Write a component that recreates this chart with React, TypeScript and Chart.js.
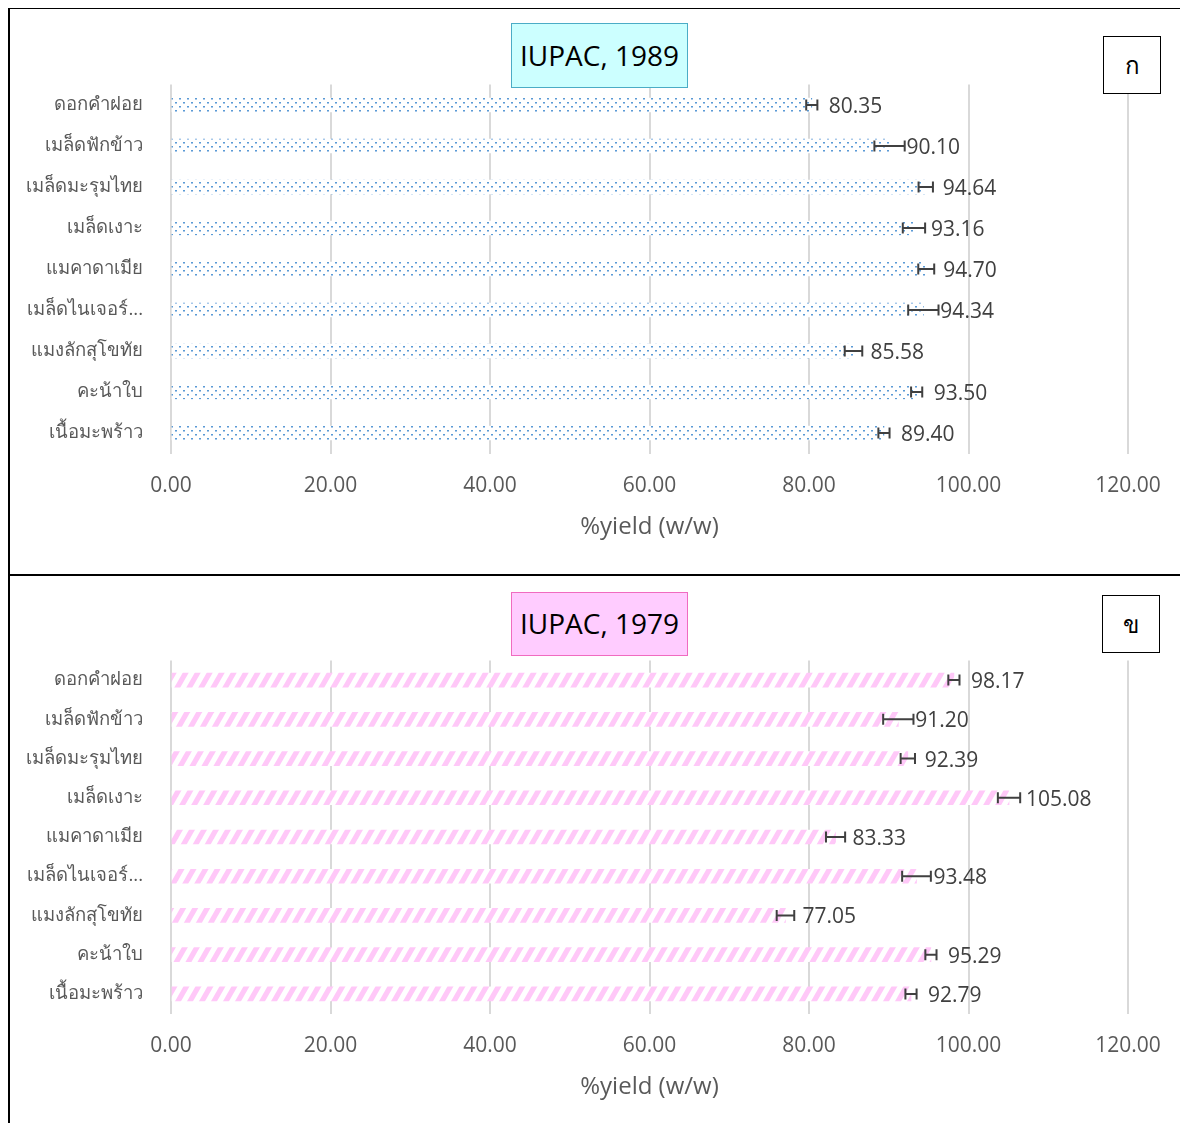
import React, { useEffect, useRef } from "react";
import { Chart, registerables } from "chart.js";

Chart.register(...registerables);

const categories = [
  "ดอกคำฝอย",
  "เมล็ดฟักข้าว",
  "เมล็ดมะรุมไทย",
  "เมล็ดเงาะ",
  "แมคาดาเมีย",
  "เมล็ดไนเจอร์...",
  "แมงลักสุโขทัย",
  "คะน้าใบ",
  "เนื้อมะพร้าว",
];

const valuesA = [80.35, 90.1, 94.64, 93.16, 94.7, 94.34, 85.58, 93.5, 89.4];
const errorsA = [0.7, 1.9, 0.9, 1.4, 1.0, 1.9, 1.1, 0.7, 0.7];

const valuesB = [98.17, 91.2, 92.39, 105.08, 83.33, 93.48, 77.05, 95.29, 92.79];
const errorsB = [0.7, 1.9, 0.9, 1.4, 1.2, 1.8, 1.1, 0.7, 0.7];

const xTicks = [0, 20, 40, 60, 80, 100, 120];
const axisTitle = "%yield (w/w)";
const titleA = "IUPAC, 1989";
const titleB = "IUPAC, 1979";
const tagA = "ก";
const tagB = "ข";

const FONT = "'Open Sans', 'Noto Sans', sans-serif";
Chart.defaults.font.family = FONT;

function makeDotPattern(ctx: CanvasRenderingContext2D) {
  const c = document.createElement("canvas");
  c.width = 8;
  c.height = 8;
  const g = c.getContext("2d")!;
  g.fillStyle = "#ffffff";
  g.fillRect(0, 0, 8, 8);
  g.fillStyle = "#5B9BD5";
  g.fillRect(1, 1, 2, 1);
  g.fillRect(5, 5, 2, 1);
  g.fillStyle = "#A8C8EA";
  g.fillRect(1, 2, 2, 1);
  g.fillRect(5, 6, 2, 1);
  return ctx.createPattern(c, "repeat")!;
}

function makeStripePattern(ctx: CanvasRenderingContext2D) {
  const w = 12;
  const h = 21;
  const c = document.createElement("canvas");
  c.width = w;
  c.height = h;
  const g = c.getContext("2d")!;
  g.fillStyle = "#ffffff";
  g.fillRect(0, 0, w, h);
  g.fillStyle = "#FFC8F8";
  for (let k = -2; k <= 2; k++) {
    const ox = k * w;
    g.beginPath();
    g.moveTo(ox + 0, h);
    g.lineTo(ox + 6, h);
    g.lineTo(ox + 18, 0);
    g.lineTo(ox + 12, 0);
    g.closePath();
    g.fill();
  }
  return ctx.createPattern(c, "repeat")!;
}

const errLabelPlugin = {
  id: "errLabels",
  afterDatasetsDraw(chart: any, _args: any, opts: any) {
    const { ctx } = chart;
    const meta = chart.getDatasetMeta(0);
    const xs = chart.scales.x;
    const vals = chart.data.datasets[0].data as number[];
    const errs = opts.errors as number[];
    ctx.save();
    meta.data.forEach((bar: any, i: number) => {
      const v = vals[i];
      const e = errs[i];
      const y = bar.y;
      const x1 = xs.getPixelForValue(v - e);
      const x2 = xs.getPixelForValue(v + e);
      ctx.fillStyle = "#404040";
      ctx.font = `21px ${FONT}`;
      ctx.textBaseline = "middle";
      ctx.textAlign = "left";
      ctx.fillText(v.toFixed(2), bar.x + 17, y + 2);
      ctx.strokeStyle = "#404040";
      ctx.lineWidth = 2;
      ctx.beginPath();
      ctx.moveTo(x1, y);
      ctx.lineTo(x2, y);
      ctx.moveTo(x1, y - 5.5);
      ctx.lineTo(x1, y + 5.5);
      ctx.moveTo(x2, y - 5.5);
      ctx.lineTo(x2, y + 5.5);
      ctx.stroke();
    });
    ctx.restore();
  },
};

type PanelProps = {
  values: number[];
  errors: number[];
  kind: "dots" | "stripes";
  width: number;
  height: number;
  padTop: number;
  padBottom: number;
};

function BarPanel({ values, errors, kind, width, height, padTop, padBottom }: PanelProps) {
  const ref = useRef<HTMLCanvasElement>(null);
  useEffect(() => {
    const canvas = ref.current!;
    const ctx = canvas.getContext("2d")!;
    const pattern = kind === "dots" ? makeDotPattern(ctx) : makeStripePattern(ctx);
    const chart = new Chart(canvas, {
      type: "bar",
      data: {
        labels: categories,
        datasets: [
          {
            data: values,
            backgroundColor: pattern as any,
            borderWidth: 0,
            barThickness: 14,
          },
        ],
      },
      options: {
        indexAxis: "y",
        responsive: false,
        animation: false,
        layout: { padding: { left: 0, right: 60, top: padTop, bottom: padBottom } },
        plugins: {
          legend: { display: false },
          tooltip: { enabled: false },
          errLabels: { errors },
        } as any,
        scales: {
          x: {
            min: 0,
            max: 120,
            afterBuildTicks: (s: any) => {
              s.ticks = xTicks.map((v) => ({ value: v }));
            },
            afterFit: (s: any) => {
              s.height = 88;
            },
            grid: { color: "#D9D9D9", lineWidth: 2, drawTicks: false },
            border: { display: false },
            ticks: {
              padding: 20,
              color: "#595959",
              font: { size: 21 },
              callback: (v: any) => Number(v).toFixed(2),
            },
            title: {
              display: true,
              text: axisTitle,
              color: "#595959",
              font: { size: 24 },
              padding: 0,
            },
          },
          y: {
            afterFit: (s: any) => {
              s.width = 161;
            },
            grid: { display: false, drawTicks: false },
            border: { display: false },
            ticks: {
              padding: 28,
              color: "#595959",
              font: { size: 18.5 },
            },
          },
        },
      },
      plugins: [errLabelPlugin],
    });
    return () => chart.destroy();
  }, [values, errors, kind, padTop, padBottom]);
  return (
    <canvas
      ref={ref}
      width={width}
      height={height}
      style={{ display: "block", width, height }}
    />
  );
}

function TitleBox({ text, left, top, height, fill, border }: any) {
  return (
    <div
      style={{
        position: "absolute",
        left,
        top,
        width: 177,
        height,
        boxSizing: "border-box",
        background: fill,
        border: `1px solid ${border}`,
        display: "flex",
        alignItems: "center",
        justifyContent: "center",
        fontFamily: FONT,
        fontSize: 28,
        paddingBottom: 2,
        color: "#000",
      }}
    >
      {text}
    </div>
  );
}

function TagBox({ text, left, top }: any) {
  return (
    <div
      style={{
        position: "absolute",
        left,
        top,
        width: 58,
        height: 58,
        boxSizing: "border-box",
        background: "#fff",
        border: "1.5px solid #000",
        display: "flex",
        alignItems: "center",
        justifyContent: "center",
        fontFamily: FONT,
        fontSize: 24,
        fontWeight: 500,
        color: "#000",
      }}
    >
      {text}
    </div>
  );
}

export default function App() {
  useEffect(() => {
    document.documentElement.style.overflow = "hidden";
    document.body.style.overflow = "hidden";
  }, []);
  return (
    <div style={{ position: "relative", width: 1172, height: 1116, marginTop: -1 }}>
      <div style={{ position: "absolute", left: 2, top: 2 }}>
        <BarPanel
          values={valuesA}
          errors={errorsA}
          kind="dots"
          width={1178}
          height={565}
          padTop={75.5}
          padBottom={32.5}
        />
      </div>
      <div style={{ position: "absolute", left: 2, top: 569, height: 555, overflow: "hidden" }}>
        <BarPanel
          values={valuesB}
          errors={errorsB}
          kind="stripes"
          width={1178}
          height={555}
          padTop={84.5}
          padBottom={29.5}
        />
      </div>
      <div style={{ position: "absolute", left: 0, top: 0, width: 1200, height: 2, background: "#000" }} />
      <div style={{ position: "absolute", left: 0, top: 0, width: 2, height: 1140, background: "#000" }} />
      <div style={{ position: "absolute", left: 0, top: 567, width: 1200, height: 2, background: "#000" }} />
      <TitleBox text={titleA} left={503} top={16} height={65} fill="#CCFFFF" border="#4BACC6" />
      <TitleBox text={titleB} left={503} top={585} height={64} fill="#FFCCFF" border="#F06BC0" />
      <TagBox text={tagA} left={1095} top={29} />
      <TagBox text={tagB} left={1094} top={588} />
    </div>
  );
}
